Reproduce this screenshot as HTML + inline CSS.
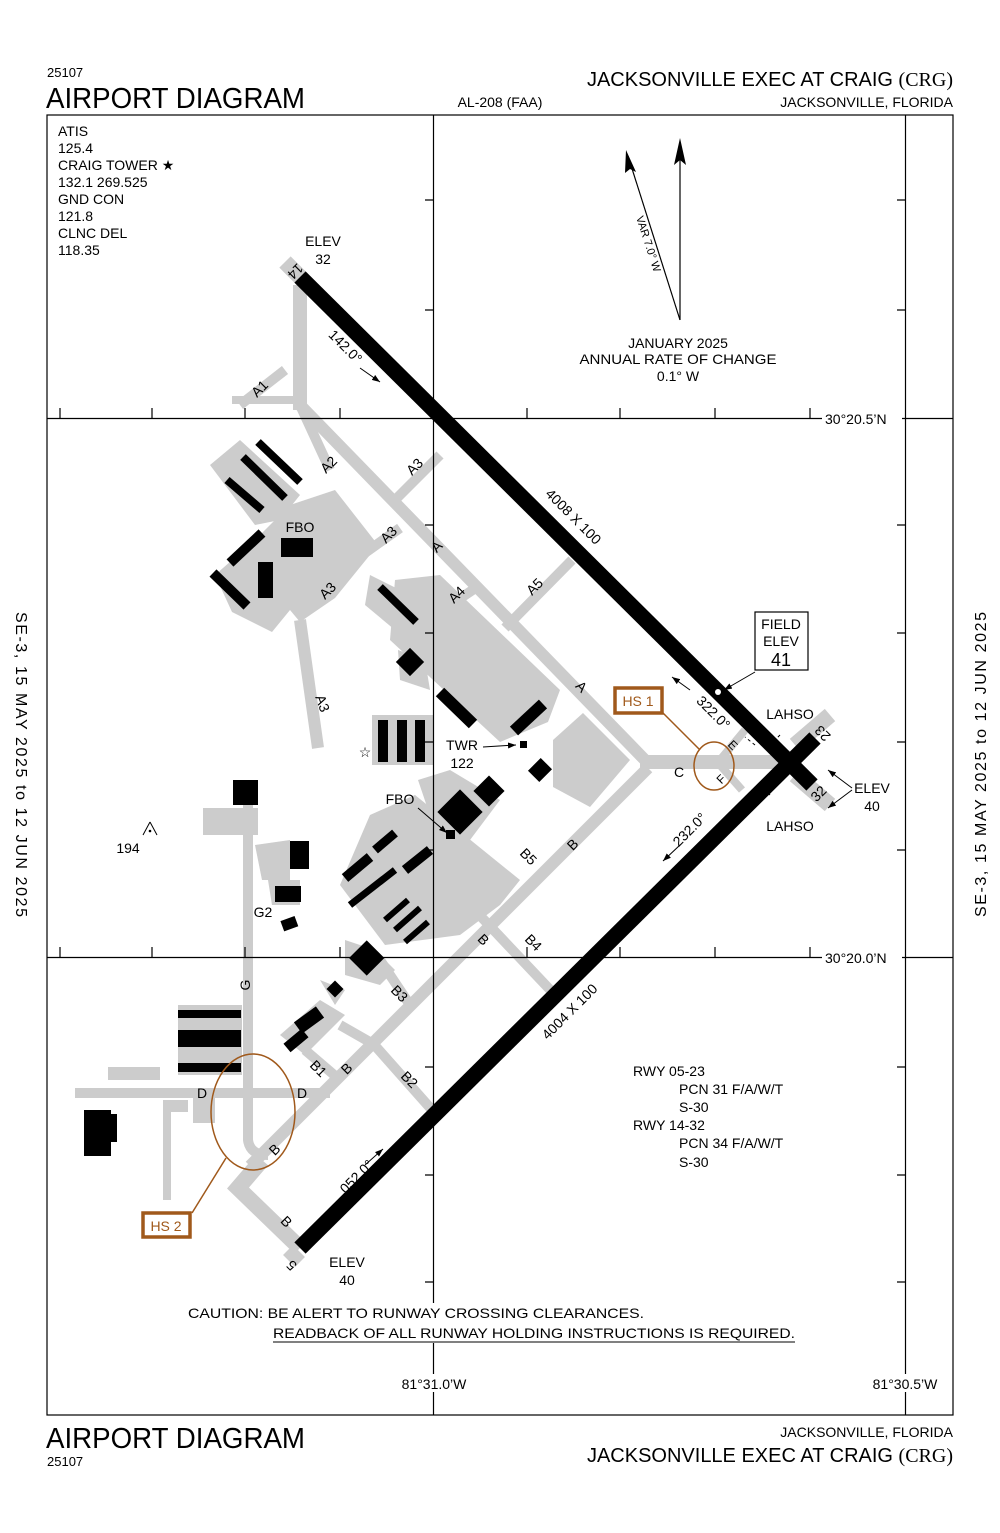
<!DOCTYPE html>
<html><head><meta charset="utf-8"><style>
body{margin:0;background:#fff}
svg{display:block}
text{font-family:"Liberation Sans",sans-serif;fill:#000}
</style></head><body>
<svg width="1000" height="1533" viewBox="0 0 1000 1533" xmlns="http://www.w3.org/2000/svg">
<defs><marker id="ah" markerWidth="8" markerHeight="6" refX="8" refY="3" orient="auto"><path d="M0,0 L8,3 L0,6z" fill="#000"/></marker></defs>
<!-- headers -->
<text x="47" y="77" font-size="13">25107</text>
<text x="46" y="108" font-size="29" textLength="259" lengthAdjust="spacingAndGlyphs">AIRPORT DIAGRAM</text>
<text x="500" y="107" font-size="14" text-anchor="middle">AL-208 (FAA)</text>
<text x="953" y="86" font-size="20" text-anchor="end">JACKSONVILLE EXEC AT CRAIG <tspan font-family="Liberation Serif">(CRG)</tspan></text>
<text x="953" y="107" font-size="14" text-anchor="end">JACKSONVILLE, FLORIDA</text>
<text x="46" y="1448" font-size="29" textLength="259" lengthAdjust="spacingAndGlyphs">AIRPORT DIAGRAM</text>
<text x="47" y="1466" font-size="13">25107</text>
<text x="953" y="1437" font-size="14" text-anchor="end">JACKSONVILLE, FLORIDA</text>
<text x="953" y="1462" font-size="20" text-anchor="end">JACKSONVILLE EXEC AT CRAIG <tspan font-family="Liberation Serif">(CRG)</tspan></text>
<text transform="translate(16,612) rotate(90)" font-size="16" textLength="305" lengthAdjust="spacing">SE-3,  15 MAY 2025  to  12 JUN 2025</text>
<text transform="translate(986,917) rotate(-90)" font-size="16" textLength="305" lengthAdjust="spacing">SE-3,  15 MAY 2025  to  12 JUN 2025</text>

<!-- grey taxiways/aprons -->
<g fill="#cccccc" stroke="none">
<polygon points="215,575 255,540 290,505 335,490 378,545 335,598 300,622 290,610 272,632 232,612"/>
<polygon points="210,465 240,440 300,495 280,520 255,525"/>
<polygon points="395,580 440,575 560,690 548,722 500,742 390,640"/>
<polygon points="370,575 400,590 420,625 395,630 365,605"/>
<polygon points="398,650 425,660 430,690 400,680"/>
<polygon points="553,740 583,713 630,760 590,807 553,787"/>
<polygon points="370,815 415,795 520,880 500,905 460,935 385,945 340,885"/>
<polygon points="418,780 450,770 500,800 470,840 440,845"/>
<rect x="372" y="715" width="62" height="50"/>
<rect x="203" y="808" width="55" height="27"/>
<polygon points="255,845 290,840 290,880 262,880"/>
<polygon points="268,880 300,880 300,905 272,905"/>
<polygon points="345,940 375,950 395,970 380,985 345,975"/>
<polygon points="320,980 345,990 335,1005"/>
<polygon points="280,1035 320,1000 345,1015 305,1055"/>
<rect x="178" y="1005" width="64" height="70"/>
<rect x="108" y="1067" width="52" height="13"/>
<rect x="193" y="1093" width="22" height="30"/>
<rect x="170" y="1100" width="18" height="12"/>
</g>
<g stroke="#cccccc" fill="none" stroke-linecap="butt">
<path d="M300,285 L300,410" stroke-width="14"/>
<path d="M300,405 L645,760" stroke-width="12"/>
<path d="M240,405 L285,370" stroke-width="10"/>
<path d="M232,400 L300,400" stroke-width="8"/>
<path d="M300,405 L330,470" stroke-width="10"/>
<path d="M395,500 L440,455" stroke-width="10"/>
<path d="M355,560 L400,528" stroke-width="10"/>
<path d="M300,620 L318,748" stroke-width="12"/>
<path d="M440,612 L480,585" stroke-width="10"/>
<path d="M505,628 L572,560" stroke-width="10"/>
<path d="M640,762 L795,762" stroke-width="14"/>
<path d="M720,760 L745,730 M720,765 L742,790" stroke-width="8"/>
<path d="M648,768 L250,1166" stroke-width="12"/>
<path d="M470,905 L555,995" stroke-width="10"/>
<path d="M380,960 L410,1005" stroke-width="10"/>
<path d="M370,1040 L432,1110" stroke-width="10"/>
<path d="M305,1050 L340,1080" stroke-width="10"/>
<path d="M340,1025 L375,1045" stroke-width="10"/>
<path d="M75,1093 L330,1093" stroke-width="10"/>
<path d="M248,795 L248,1140 Q250,1155 268,1155" stroke-width="10"/>
<path d="M262,1160 L238,1188 L300,1248" stroke-width="16"/>
<path d="M167,1100 L167,1200" stroke-width="8"/>
<path d="M288,1250 L300,1262" stroke-width="14"/>
<path d="M795,745 L830,715" stroke-width="16"/>
<path d="M795,775 L830,805" stroke-width="16"/>
<path d="M285,262 L300,277" stroke-width="16"/>
</g>

<!-- frame & grid -->
<g stroke="#000" stroke-width="1.2" fill="none">
<rect x="47" y="115" width="906" height="1300"/>
<line x1="433.5" y1="115" x2="433.5" y2="1415"/>
<line x1="905.5" y1="115" x2="905.5" y2="1415"/>
<line x1="47" y1="418.5" x2="953" y2="418.5"/>
<line x1="47" y1="957.5" x2="953" y2="957.5"/>
<path d="M60,418v-10M152,418v-10M245,418v-10M340,418v-10M527,418v-10M620,418v-10M715,418v-10M810,418v-10"/>
<path d="M60,957v-10M152,957v-10M245,957v-10M340,957v-10M527,957v-10M620,957v-10M715,957v-10M810,957v-10"/>
<path d="M433,200h-8M433,310h-8M433,525h-8M433,633h-8M433,742h-8M433,850h-8M433,1067h-8M433,1175h-8M433,1282h-8"/>
<path d="M905,200h-8M905,310h-8M905,525h-8M905,633h-8M905,742h-8M905,850h-8M905,1067h-8M905,1175h-8M905,1282h-8"/>
</g>
<rect x="822" y="410" width="80" height="16" fill="#fff"/>
<rect x="822" y="949" width="80" height="16" fill="#fff"/>
<rect x="395" y="1374" width="78" height="18" fill="#fff"/>
<rect x="865" y="1374" width="82" height="18" fill="#fff"/>
<rect x="186" y="1303" width="612" height="40" fill="#fff"/>
<text x="825" y="424" font-size="14">30°20.5’N</text>
<text x="825" y="963" font-size="14">30°20.0’N</text>

<!-- runways -->
<g stroke="#000" stroke-width="16">
<line x1="300" y1="277" x2="812" y2="785"/>
<line x1="300" y1="1248" x2="815" y2="738"/>
</g>
<circle cx="718" cy="692" r="3" fill="#fff"/>

<!-- buildings -->
<g fill="#000">
<g stroke="#000" stroke-width="8">
<line x1="227" y1="480" x2="262" y2="510"/>
<line x1="243" y1="457" x2="285" y2="498"/>
<line x1="258" y1="442" x2="300" y2="482"/>
<line x1="230" y1="563" x2="262" y2="533" stroke-width="10"/>
<line x1="213" y1="573" x2="247" y2="606" stroke-width="10"/>
<line x1="380" y1="587" x2="416" y2="622"/>
<line x1="440" y1="692" x2="473" y2="724" stroke-width="12"/>
<line x1="514" y1="731" x2="543" y2="704" stroke-width="12"/>
<line x1="345" y1="878" x2="370" y2="857" stroke-width="10"/>
<line x1="350" y1="905" x2="395" y2="870" stroke-width="7"/>
<line x1="375" y1="850" x2="395" y2="833" stroke-width="9"/>
<line x1="405" y1="870" x2="430" y2="850" stroke-width="10"/>
<line x1="385" y1="920" x2="408" y2="900" stroke-width="6"/>
<line x1="395" y1="930" x2="420" y2="908" stroke-width="6"/>
<line x1="405" y1="942" x2="428" y2="922" stroke-width="6"/>
<line x1="298" y1="1028" x2="320" y2="1012" stroke-width="14"/>
<line x1="287" y1="1048" x2="305" y2="1033" stroke-width="11"/>
</g>
<rect x="281" y="538" width="32" height="19"/>
<rect x="258" y="562" width="15" height="36"/>
<rect x="400" y="652" width="20" height="20" transform="rotate(45 410 662)"/>
<rect x="531" y="762" width="18" height="16" transform="rotate(-45 540 770)"/>
<rect x="444" y="796" width="32" height="32" transform="rotate(-45 460 812)"/>
<rect x="478" y="780" width="22" height="22" transform="rotate(-45 489 791)"/>
<rect x="446" y="830" width="9" height="9"/>
<rect x="520" y="741" width="7" height="7"/>
<rect x="378" y="720" width="10" height="42"/>
<rect x="397" y="720" width="10" height="42"/>
<rect x="415" y="720" width="10" height="42"/>
<rect x="233" y="780" width="25" height="25"/>
<rect x="290" y="841" width="19" height="28"/>
<rect x="275" y="886" width="26" height="16"/>
<rect x="282" y="918" width="15" height="11" transform="rotate(-20 290 924)"/>
<rect x="354" y="946" width="25" height="25" transform="rotate(-45 366 958)"/>
<rect x="329" y="983" width="12" height="12" transform="rotate(-45 335 989)"/>
<rect x="178" y="1010" width="63" height="8"/>
<rect x="178" y="1030" width="63" height="17"/>
<rect x="178" y="1063" width="63" height="9"/>
<rect x="84" y="1110" width="27" height="46"/>
<rect x="108" y="1114" width="9" height="28"/>
</g>
<text x="365" y="757" font-size="14" text-anchor="middle">☆</text>

<!-- compass -->
<line x1="680" y1="160" x2="680" y2="320" stroke="#000" stroke-width="1.2"/>
<path d="M680,138 L686,165 L680,160 L674,165z" fill="#000"/>
<line x1="628" y1="156" x2="680" y2="320" stroke="#000" stroke-width="1.2"/>
<path d="M626,150 L636,172 L630,169 L625,173z" fill="#000"/>
<text transform="translate(645,245) rotate(72)" font-size="11" text-anchor="middle">VAR 7.0° W</text>
<text x="678" y="348" font-size="14" text-anchor="middle">JANUARY 2025</text>
<text x="678" y="364" font-size="14" text-anchor="middle" textLength="197" lengthAdjust="spacingAndGlyphs">ANNUAL RATE OF CHANGE</text>
<text x="678" y="381" font-size="14" text-anchor="middle">0.1° W</text>

<!-- frequencies -->
<g font-size="14">
<text x="58" y="136">ATIS</text><text x="58" y="153">125.4</text>
<text x="58" y="170">CRAIG TOWER ★</text><text x="58" y="187">132.1  269.525</text>
<text x="58" y="204">GND CON</text><text x="58" y="221">121.8</text>
<text x="58" y="238">CLNC DEL</text><text x="58" y="255">118.35</text>
</g>

<!-- labels -->
<g font-size="14" text-anchor="middle">
<text x="323" y="246">ELEV</text><text x="323" y="264">32</text>
<text transform="translate(292,268) rotate(135)">14</text>
<text transform="translate(342,350) rotate(45)">142.0°</text>
<text transform="translate(570,520) rotate(45)">4008 X 100</text>
<text transform="translate(573,1015) rotate(-45)">4004 X 100</text>
<text transform="translate(263,392) rotate(-45)">A1</text>
<text transform="translate(332,468) rotate(-45)">A2</text>
<text transform="translate(418,470) rotate(-45)">A3</text>
<text transform="translate(392,538) rotate(-45)">A3</text>
<text transform="translate(331,594) rotate(-45)">A3</text>
<text transform="translate(318,705) rotate(70)">A3</text>
<text transform="translate(440,550) rotate(-45)">A</text>
<text transform="translate(460,598) rotate(-45)">A4</text>
<text transform="translate(538,590) rotate(-45)">A5</text>
<text transform="translate(578,690) rotate(45)">A</text>
<text x="300" y="532">FBO</text>
<text x="462" y="750">TWR</text><text x="462" y="768">122</text>
<text x="400" y="804">FBO</text>
<text x="679" y="777">C</text>
<text transform="translate(576,848) rotate(-45)">B</text>
<text transform="translate(525,860) rotate(45)">B5</text>
<text transform="translate(480,943) rotate(45)">B</text>
<text transform="translate(530,946) rotate(45)">B4</text>
<text transform="translate(396,997) rotate(45)">B3</text>
<text transform="translate(315,1072) rotate(45)">B1</text>
<text transform="translate(350,1072) rotate(-45)">B</text>
<text transform="translate(406,1083) rotate(45)">B2</text>
<text transform="translate(278,1153) rotate(-45)">B</text>
<text transform="translate(283,1225) rotate(45)">B</text>
<text x="202" y="1098">D</text><text x="302" y="1098">D</text>
<text transform="translate(250,985) rotate(-90)">G</text>
<text x="263" y="917">G2</text>
<text x="128" y="853">194</text>
<text transform="translate(295,1262) rotate(-135)">5</text>
<text x="347" y="1267">ELEV</text><text x="347" y="1285">40</text>
<text transform="translate(360,1180) rotate(-45)">052.0°</text>
<text transform="translate(710,716) rotate(45)">322.0°</text>
<text transform="translate(693,833) rotate(-45)">232.0°</text>
<text transform="translate(730,748) rotate(45)" font-size="12">E</text>
<text transform="translate(724,782) rotate(-45)" font-size="12">F</text>
<text x="790" y="719">LAHSO</text>
<text x="790" y="831">LAHSO</text>
<text transform="translate(826,730) rotate(-135)">23</text>
<text transform="translate(822,797) rotate(-45)">32</text>
<text x="872" y="793">ELEV</text><text x="872" y="811">40</text>
<text x="434" y="1389">81°31.0’W</text>
<text x="905" y="1389">81°30.5’W</text>
</g>
<path d="M150,822 L143,835 M150,822 L157,835" stroke="#000" fill="none"/><circle cx="150" cy="831" r="1.3"/>
<g stroke="#000" stroke-width="1" fill="none">
<line x1="360" y1="368" x2="380" y2="382" marker-end="url(#ah)"/>
<line x1="690" y1="690" x2="672" y2="677" marker-end="url(#ah)"/>
<line x1="680" y1="845" x2="663" y2="861" marker-end="url(#ah)"/>
<line x1="365" y1="1165" x2="383" y2="1149" marker-end="url(#ah)"/>
<line x1="483" y1="747" x2="516" y2="745" marker-end="url(#ah)"/>
<line x1="418" y1="808" x2="447" y2="833" marker-end="url(#ah)"/>
<line x1="755" y1="672" x2="724" y2="690" marker-end="url(#ah)"/>
<line x1="852" y1="788" x2="828" y2="770" marker-end="url(#ah)"/>
<line x1="852" y1="790" x2="828" y2="808" marker-end="url(#ah)"/>
<path d="M780,735 l-12,12 M770,795 l-10,-10" stroke-dasharray="3,3"/>
<path d="M755,745 l-10,-8 M760,785 l-8,6" stroke-dasharray="3,3"/>
</g>
<rect x="755" y="612" width="53" height="58" fill="#fff" stroke="#000" stroke-width="1.2"/>
<text x="781" y="629" font-size="14" text-anchor="middle">FIELD</text>
<text x="781" y="646" font-size="14" text-anchor="middle">ELEV</text>
<text x="781" y="666" font-size="18" text-anchor="middle">41</text>

<!-- hot spots -->
<g stroke="#a0591b" fill="none">
<ellipse cx="714" cy="766" rx="20" ry="24" stroke-width="1.5"/>
<line x1="662" y1="712" x2="700" y2="750" stroke-width="1.5"/>
<rect x="615" y="688" width="47" height="25" stroke-width="3.5" fill="#fff"/>
<ellipse cx="253" cy="1112" rx="42" ry="58" stroke-width="1.5"/>
<line x1="226" y1="1158" x2="192" y2="1213" stroke-width="1.5"/>
<rect x="143" y="1213" width="47" height="24" stroke-width="3.5" fill="#fff"/>
</g>
<text x="638" y="706" font-size="14" text-anchor="middle" style="fill:#a0591b">HS 1</text>
<text x="166" y="1231" font-size="14" text-anchor="middle" style="fill:#a0591b">HS 2</text>

<!-- runway data -->
<g font-size="14">
<text x="633" y="1076">RWY 05-23</text>
<text x="679" y="1094">PCN 31 F/A/W/T</text>
<text x="679" y="1112">S-30</text>
<text x="633" y="1130">RWY 14-32</text>
<text x="679" y="1148">PCN 34 F/A/W/T</text>
<text x="679" y="1167">S-30</text>
<text x="188" y="1318" textLength="456" lengthAdjust="spacingAndGlyphs">CAUTION: BE ALERT TO RUNWAY CROSSING CLEARANCES.</text>
<text x="273" y="1338" textLength="522" lengthAdjust="spacingAndGlyphs">READBACK OF ALL RUNWAY HOLDING INSTRUCTIONS IS REQUIRED.</text>
</g>
<line x1="273" y1="1342" x2="795" y2="1342" stroke="#000"/>
</svg>
</body></html>
